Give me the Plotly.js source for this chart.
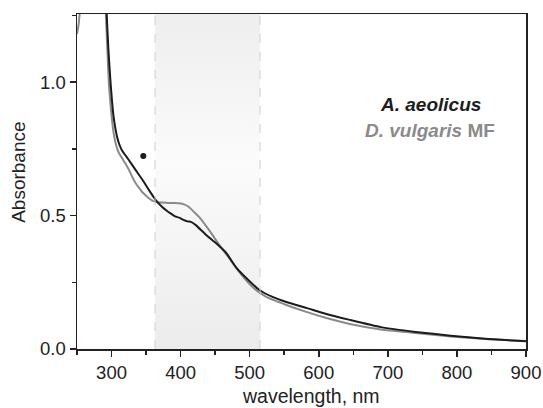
<!DOCTYPE html>
<html>
<head>
<meta charset="utf-8">
<script src="https://cdn.plot.ly/plotly-3.0.1.min.js"></script>
<style>html,body{margin:0;padding:0;background:#fff;}#chart{width:543px;height:408px;}</style>
</head>
<body>
<div id="chart"></div>
<script>
// A. aeolicus spectrum (black)
const aeolicusWavelength = [287, 290, 293, 295.5, 298.5, 300.5, 302.5, 305, 308, 311, 315, 320, 325, 335, 345, 354, 364, 373, 380, 386, 392, 398, 405, 410, 415, 422, 437, 451, 466, 480, 495, 514, 533, 553, 582, 611, 645, 690, 740, 791, 841, 900];
const aeolicusAbs = [1.7, 1.45, 1.255, 1.12, 1.0, 0.935, 0.88, 0.835, 0.795, 0.768, 0.745, 0.726, 0.708, 0.670, 0.633, 0.596, 0.558, 0.533, 0.518, 0.507, 0.497, 0.492, 0.483, 0.478, 0.476, 0.464, 0.427, 0.397, 0.360, 0.307, 0.266, 0.221, 0.195, 0.176, 0.154, 0.131, 0.109, 0.082, 0.064, 0.050, 0.038, 0.029];

// D. vulgaris MF spectrum (grey)
const vulgarisWavelength = [250, 252.5, 256, 260, 270, 285, 289, 291.7, 294, 296, 298.5, 301, 303, 306, 310, 315, 320, 325, 330, 335, 340, 344, 350, 355, 359, 365, 378, 390, 398, 405, 412, 420, 427, 441, 456, 470, 485, 504, 524, 553, 582, 611, 645, 690, 740, 791, 841, 900];
const vulgarisAbs = [1.18, 1.22, 1.33, 1.5, 1.8, 1.8, 1.45, 1.255, 1.12, 1.0, 0.915, 0.85, 0.81, 0.77, 0.738, 0.716, 0.695, 0.672, 0.645, 0.621, 0.603, 0.589, 0.574, 0.563, 0.556, 0.551, 0.548, 0.547, 0.546, 0.542, 0.532, 0.512, 0.494, 0.446, 0.390, 0.341, 0.288, 0.232, 0.195, 0.165, 0.139, 0.116, 0.094, 0.073, 0.060, 0.047, 0.037, 0.030];

// marked point
const markerWavelength = [346];
const markerAbs = [0.723];

// highlighted wavelength band
const bandRange = [363, 515];

// axes
const xRange = [250, 900];
const yRange = [0, 1.255];
const xTicks = [300, 400, 500, 600, 700, 800, 900];
const yTicks = [0, 0.5, 1.0];
const yTickLabels = ['0.0', '0.5', '1.0'];

const seriesNames = ['A. aeolicus', 'D. vulgaris MF'];

const FONT = 'Liberation Sans, Arial, Helvetica, sans-serif';
const BLACK = '#1c1c1c';
const GREY = '#8a8a8a';

const band = {
  x: [bandRange[0], bandRange[1], bandRange[1], bandRange[0], bandRange[0]],
  y: [yRange[0], yRange[0], yRange[1], yRange[1], yRange[0]],
  type: 'scatter', mode: 'lines', fill: 'toself',
  line: {width: 0},
  fillgradient: {type: 'vertical', colorscale: [[0, '#ececec'], [0.55, '#fbfbfb'], [1, '#eeeeee']]},
  hoverinfo: 'skip', showlegend: false
};

const traces = [
  band,
  {x: vulgarisWavelength, y: vulgarisAbs, type: 'scatter', mode: 'lines', line: {color: GREY, width: 2, shape: 'spline', smoothing: 0.5}, name: seriesNames[1], showlegend: false},
  {x: aeolicusWavelength, y: aeolicusAbs, type: 'scatter', mode: 'lines', line: {color: BLACK, width: 2, shape: 'spline', smoothing: 0.5}, name: seriesNames[0], showlegend: false},
  {x: markerWavelength, y: markerAbs, type: 'scatter', mode: 'markers', marker: {color: BLACK, size: 6}, showlegend: false}
];

const layout = {
  width: 543, height: 408,
  margin: {l: 77, r: 17, t: 14, b: 59},
  paper_bgcolor: '#fff', plot_bgcolor: '#fff',
  font: {family: FONT, size: 18, color: '#222'},
  showlegend: false,
  xaxis: {
    range: xRange, tickvals: xTicks, ticktext: xTicks.map(String),
    ticks: 'outside', ticklen: 6, tickwidth: 1.5, tickcolor: '#222',
    minor: {dtick: 50, tick0: 250, ticks: 'outside', ticklen: 4, tickwidth: 1.5, tickcolor: '#222', showgrid: false},
    showline: true, mirror: true, linecolor: '#222', linewidth: 1.5,
    showgrid: false, zeroline: false,
    tickfont: {family: FONT, size: 18.5, color: '#222'}
  },
  yaxis: {
    range: yRange, tickvals: yTicks, ticktext: yTickLabels,
    ticks: 'outside', ticklen: 6, tickwidth: 1.5, tickcolor: '#222',
    minor: {dtick: 0.25, tick0: 0, ticks: 'outside', ticklen: 4, tickwidth: 1.5, tickcolor: '#222', showgrid: false},
    showline: true, mirror: true, linecolor: '#222', linewidth: 1.5,
    showgrid: false, zeroline: false,
    tickfont: {family: FONT, size: 18.5, color: '#222'}
  },
  shapes: bandRange.map(v => ({
    type: 'line', xref: 'x', yref: 'paper', x0: v, x1: v, y0: 0, y1: 1,
    line: {color: '#cfcfcf', width: 1, dash: 'dash'}, layer: 'above'
  })),
  annotations: [
    {text: 'wavelength, nm', xref: 'paper', yref: 'paper', x: 0.521, y: -0.14, xanchor: 'center', yanchor: 'middle', showarrow: false, font: {family: FONT, size: 19.5, color: '#222'}},
    {text: 'Absorbance', xref: 'paper', yref: 'paper', x: -0.132, y: 0.528, xanchor: 'center', yanchor: 'middle', textangle: -90, showarrow: false, font: {family: FONT, size: 19, color: '#222'}},
    {text: '<b><i>' + seriesNames[0] + '</i></b>', xref: 'paper', yref: 'paper', x: 0.787, y: 0.73, xanchor: 'center', yanchor: 'middle', showarrow: false, font: {family: FONT, size: 19, color: BLACK}},
    {text: '<b><i>D. vulgaris</i> MF</b>', xref: 'paper', yref: 'paper', x: 0.787, y: 0.653, xanchor: 'center', yanchor: 'middle', showarrow: false, font: {family: FONT, size: 19, color: GREY}}
  ]
};

Plotly.newPlot('chart', traces, layout, {staticPlot: true, displayModeBar: false});
</script>
</body>
</html>
